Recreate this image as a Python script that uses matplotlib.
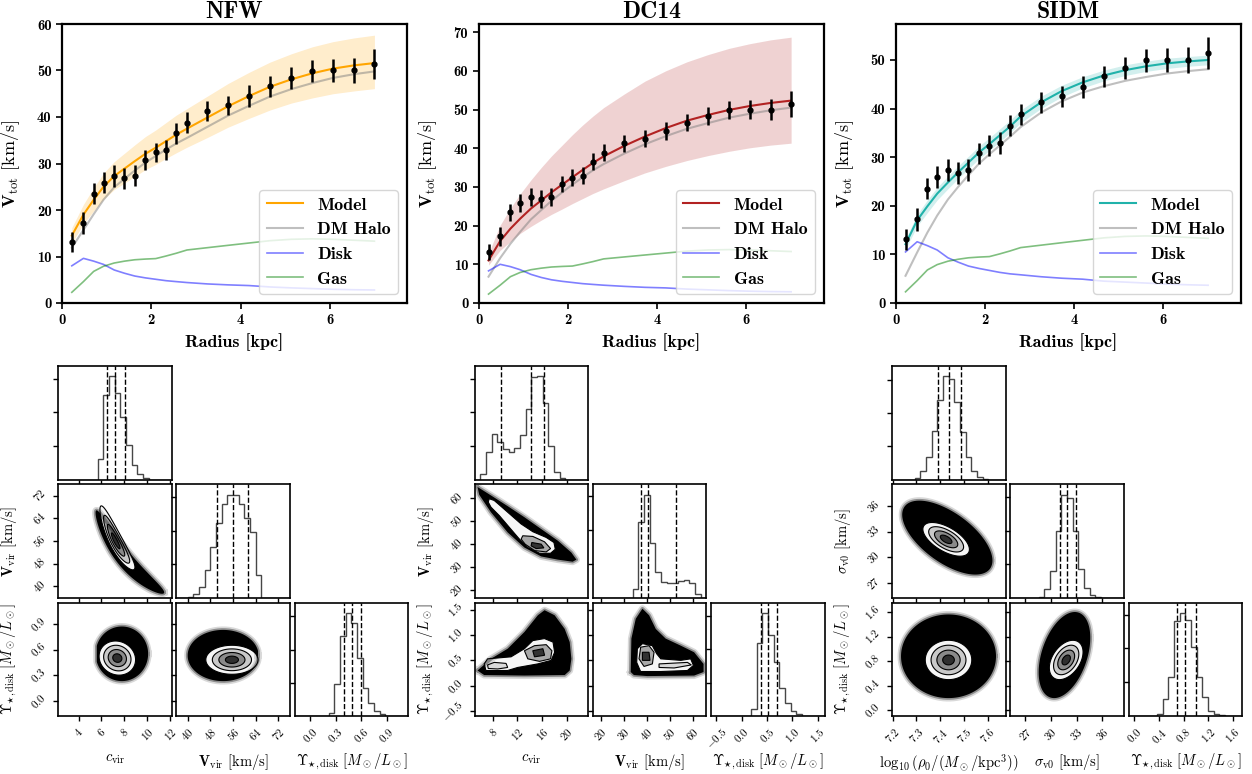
import numpy as np
import matplotlib
matplotlib.use('Agg')
import matplotlib.pyplot as plt
from matplotlib.ticker import MaxNLocator

plt.rcParams['font.family'] = ['cmr10', 'DejaVu Serif']
plt.rcParams['mathtext.fontset'] = 'cm'
plt.rcParams['axes.formatter.use_mathtext'] = False
plt.rcParams['axes.unicode_minus'] = False

# ---------------- rotation curve data ----------------
radius = [0.22, 0.48, 0.71, 0.93, 1.17, 1.40, 1.63, 1.87, 2.10, 2.33, 2.56,
          2.80, 3.26, 3.72, 4.19, 4.66, 5.14, 5.61, 6.07, 6.54, 7.00]
v_obs = [13.1, 17.2, 23.5, 25.9, 27.3, 26.8, 27.4, 30.8, 32.4, 32.9, 36.5,
         38.8, 41.3, 42.5, 44.5, 46.6, 48.4, 49.9, 50.0, 50.0, 51.4]
v_err = [2.1, 2.4, 2.2, 2.3, 2.3, 2.3, 2.3, 2.1, 2.1, 2.2, 2.2,
         2.2, 2.2, 2.1, 2.3, 2.2, 2.3, 2.3, 2.5, 2.6, 3.3]
v_gas = [2.3, 4.6, 6.8, 7.9, 8.6, 9.0, 9.3, 9.45, 9.55, 10.1, 10.7,
         11.4, 11.9, 12.4, 12.9, 13.4, 13.7, 13.8, 13.7, 13.5, 13.3]

nfw_model = [14.5, 19.0, 22.2, 25.0, 27.3, 28.9, 30.5, 32.1, 33.4, 34.8, 36.2,
             37.5, 39.9, 42.3, 44.5, 46.5, 48.1, 49.4, 50.4, 51.1, 51.6]
nfw_upper = [16.2, 21.2, 24.8, 27.9, 30.4, 32.2, 34.0, 35.8, 37.2, 38.8, 40.4,
             41.8, 44.5, 47.2, 49.6, 51.8, 53.6, 55.1, 56.2, 57.0, 57.6]
nfw_lower = [12.9, 17.0, 19.8, 22.3, 24.4, 25.8, 27.2, 28.7, 29.8, 31.1, 32.3,
             33.5, 35.6, 37.8, 39.7, 41.5, 43.0, 44.1, 45.0, 45.6, 46.1]
nfw_halo = [11.9, 15.7, 19.1, 22.2, 24.9, 26.7, 28.5, 30.2, 31.6, 33.0, 34.3,
            35.5, 37.9, 40.3, 42.4, 44.4, 46.0, 47.3, 48.4, 49.2, 49.8]
nfw_disk = [8.0, 9.6, 9.0, 8.3, 7.1, 6.4, 5.8, 5.4, 5.1, 4.8, 4.6,
            4.4, 4.1, 3.9, 3.75, 3.45, 3.25, 3.1, 2.95, 2.85, 2.8]

dc14_model = [11.0, 16.0, 19.2, 21.8, 24.4, 26.5, 28.6, 30.6, 32.5, 34.4, 36.2,
              37.9, 40.6, 43.0, 45.2, 47.1, 48.6, 49.9, 50.9, 51.7, 52.3]
dc14_upper = [12.8, 20.1, 24.5, 28.2, 31.8, 35.0, 38.0, 40.8, 43.5, 46.0, 48.3,
              50.5, 54.0, 57.3, 60.0, 62.3, 64.2, 65.8, 67.0, 68.0, 68.7]
dc14_lower = [9.8, 13.6, 15.9, 18.0, 19.8, 21.4, 22.9, 24.3, 25.7, 27.0, 28.3,
              29.5, 31.6, 33.6, 35.3, 36.8, 38.1, 39.2, 40.1, 40.8, 41.3]
dc14_halo = [6.8, 11.6, 15.3, 18.4, 21.6, 24.0, 26.4, 28.6, 30.6, 32.5, 34.3,
             35.9, 38.6, 41.0, 43.1, 45.0, 46.5, 47.9, 48.9, 49.8, 50.5]
dc14_disk = [8.3, 10.0, 9.4, 8.6, 7.4, 6.6, 6.0, 5.6, 5.3, 5.0, 4.8,
             4.6, 4.3, 4.05, 3.9, 3.6, 3.4, 3.2, 3.05, 2.95, 2.9]

sidm_model = [12.1, 17.0, 19.9, 22.5, 24.8, 26.9, 28.9, 31.0, 32.7, 34.5, 36.3,
              38.4, 41.3, 43.6, 45.4, 46.8, 47.9, 48.7, 49.3, 49.7, 50.0]
sidm_upper = [13.1, 18.2, 21.2, 23.8, 26.1, 28.2, 30.2, 32.3, 34.0, 35.8, 37.6,
              39.7, 42.55, 44.8, 46.55, 47.9, 49.0, 49.75, 50.35, 50.7, 51.0]
sidm_lower = [11.1, 15.8, 18.6, 21.2, 23.5, 25.6, 27.6, 29.7, 31.4, 33.2, 35.0,
              37.1, 40.05, 42.4, 44.25, 45.7, 46.8, 47.65, 48.25, 48.7, 49.0]
sidm_halo = [5.6, 10.4, 14.5, 18.0, 21.3, 23.9, 26.3, 28.7, 30.6, 32.4, 34.2,
             36.2, 39.2, 41.5, 43.3, 44.6, 45.7, 46.5, 47.2, 47.7, 48.1]
sidm_disk = [10.5, 12.6, 11.8, 10.9, 9.3, 8.4, 7.6, 7.1, 6.7, 6.3, 6.0,
             5.8, 5.4, 5.1, 4.9, 4.5, 4.3, 4.1, 3.9, 3.75, 3.65]

model_names = ['NFW', 'DC14', 'SIDM']
model_colors = ['orange', '#b22222', '#20b2aa']
y_tops = [60, 72.1, 57.4]
y_ticks = [[0, 10, 20, 30, 40, 50, 60], [0, 10, 20, 30, 40, 50, 60, 70],
           [0, 10, 20, 30, 40, 50]]
x_ticks = [0, 2, 4, 6]

# ---------------- posterior data ----------------
# 1D histograms (20 bins over the panel range), quantile lines
nfw_range_c, nfw_range_v, nfw_range_u = (2.2, 12.15), (36.0, 76.0), (-0.18, 1.15)
nfw_hist_c = [0, 0, 0, 0, 0, 0, 0, 60, 253, 308, 258, 186, 103, 44, 16, 5, 0, 0, 0, 0]
nfw_hist_v = [0, 0, 3, 10, 33, 83, 153, 223, 280, 308, 306, 281, 238, 195, 68, 0, 0, 0, 0, 0]
nfw_hist_u = [0, 0, 0, 0, 0, 0, 10, 97, 240, 310, 280, 175, 85, 40, 15, 5, 0, 0, 0, 0]
nfw_q_c, nfw_q_v, nfw_q_u = [6.5, 7.22, 8.06], [50.5, 56.0, 61.3], [0.40, 0.49, 0.60]
nfw_ticks = [[4, 6, 8, 10, 12], [40, 48, 56, 64, 72], [0.0, 0.3, 0.6, 0.9]]

dc14_range_c, dc14_range_v, dc14_range_u = (5.0, 23.5), (16.6, 66.0), (-0.6, 1.64)
dc14_hist_c = [0, 15, 81, 135, 113, 90, 83, 95, 133, 211, 305, 308, 228, 101, 23, 5, 0, 0, 0, 0]
dc14_hist_v = [0, 0, 0, 0, 0, 0, 0, 25, 222, 303, 162, 75, 45, 42, 43, 50, 53, 43, 10, 0]
dc14_hist_u = [0, 0, 0, 0, 0, 0, 0, 20, 217, 308, 243, 160, 85, 40, 15, 5, 0, 0, 0, 0]
dc14_q_c, dc14_q_v, dc14_q_u = [9.37, 14.28, 16.3], [37.7, 40.8, 52.9], [0.38, 0.52, 0.71]
dc14_ticks = [[8, 12, 16, 20], [20, 30, 40, 50, 60], [-0.5, 0.0, 0.5, 1.0, 1.5]]

sidm_range_r, sidm_range_s, sidm_range_u = (7.197, 7.675), (25.3, 38.5), (-0.093, 1.753)
sidm_hist_r = [0, 0, 0, 0, 5, 25, 67, 145, 240, 310, 302, 233, 143, 67, 27, 8, 2, 0, 0, 0]
sidm_hist_s = [0, 0, 0, 0, 0, 3, 25, 80, 200, 307, 297, 200, 85, 30, 7, 2, 0, 0, 0, 0]
sidm_hist_u = [0, 0, 0, 0, 0, 5, 50, 115, 280, 305, 285, 205, 115, 55, 15, 5, 2, 0, 0, 0]
sidm_q_r, sidm_q_s, sidm_q_u = [7.39, 7.437, 7.487], [31.04, 31.94, 32.99], [0.688, 0.83, 1.005]
sidm_ticks = [[7.2, 7.3, 7.4, 7.5, 7.6], [27, 30, 33, 36], [0.0, 0.4, 0.8, 1.2, 1.6]]

# 2D blobs: (x centre, y centre, x width, y width, correlation)
nfw_cv_inner, nfw_cv_outer = (7.25, 56.0, 0.105, 0.10, -0.90), (7.95, 50.0, 0.37, 0.29, -0.955)
nfw_cu_inner, nfw_cu_outer = (7.4, 0.50, 0.80, 0.10, -0.1), (7.8, 0.55, 2.3, 0.32, 0.0)
nfw_vu_inner, nfw_vu_outer = (55.6, 0.48, 4.6, 0.085, 0.0), (52.5, 0.53, 12.5, 0.30, 0.0)
nfw_cu_clip, nfw_vu_clip = (5.6, None), (None, 64.8)

sidm_rs_inner, sidm_rs_outer = (7.425, 32.1, 0.049, 0.98, -0.6), (7.43, 32.3, 0.19, 4.3, -0.62)
sidm_ru_inner, sidm_ru_outer = (7.435, 0.82, 0.049, 0.16, 0.0), (7.435, 0.88, 0.20, 0.68, 0.0)
sidm_su_inner, sidm_su_outer = (31.8, 0.82, 0.98, 0.16, 0.4), (31.6, 0.90, 3.0, 0.70, 0.4)

# DC14 outlines (data units)
dc14_cv_outer_x = [5.49, 7.68, 10.41, 13.14, 15.87, 18.61, 20.79, 21.61, 21.0, 18.61, 15.87, 13.14, 10.41, 7.68, 5.77]
dc14_cv_outer_y = [64.84, 61.17, 56.49, 51.66, 46.53, 41.40, 36.28, 33.2, 32.3, 33.2, 34.6, 38.47, 45.06, 53.85, 61.47]
dc14_cv_white_x = [7.40, 8.22, 10.41, 12.60, 14.51, 16.69, 17.95, 18.17, 17.40, 15.60, 13.69, 12.32, 10.68, 9.04, 7.68, 7.24]
dc14_cv_white_y = [59.71, 58.98, 53.85, 48.73, 45.36, 42.87, 40.67, 37.74, 35.99, 35.99, 38.47, 42.14, 47.26, 52.39, 56.05, 58.25]
dc14_cv_gray_x = [12.87, 14.51, 16.42, 17.40, 16.69, 14.78, 13.25, 12.60]
dc14_cv_gray_y = [43.60, 43.31, 40.96, 38.03, 36.57, 37.16, 39.94, 42.14]
dc14_cv_dark_x = [14.34, 15.87, 16.31, 15.05, 14.23]
dc14_cv_dark_y = [40.67, 39.94, 38.33, 38.03, 39.21]

dc14_cu_outer_x = [5.49, 7.68, 10.41, 13.14, 15.33, 16.42, 18.06, 19.70, 20.52, 20.79, 20.52, 19.70, 13.14, 6.58]
dc14_cu_outer_y = [0.30, 0.53, 0.73, 1.06, 1.39, 1.49, 1.39, 1.12, 0.86, 0.53, 0.30, 0.21, 0.20, 0.21]
dc14_cu_white_x = [6.58, 7.13, 10.96, 13.14, 14.5, 16.4, 17.8, 18.06, 17.5, 15.3, 12.05, 10.4, 6.86]
dc14_cu_white_y = [0.43, 0.53, 0.57, 0.73, 0.89, 0.93, 0.86, 0.66, 0.50, 0.43, 0.36, 0.30, 0.30]
dc14_cu_gray_x = [13.14, 14.78, 16.69, 17.62, 17.40, 15.60, 13.69]
dc14_cu_gray_y = [0.69, 0.79, 0.81, 0.69, 0.53, 0.48, 0.53]
dc14_cu_dark_x = [14.5, 16.15, 16.42, 14.78]
dc14_cu_dark_y = [0.69, 0.73, 0.60, 0.57]
dc14_cu_lobe_x = [7.13, 8.22, 10.14, 10.41, 8.77, 7.24]
dc14_cu_lobe_y = [0.41, 0.46, 0.44, 0.36, 0.33, 0.34]

dc14_vu_outer_x = [33.1, 33.4, 35.3, 38.2, 41.1, 44.0, 48.3, 54.9, 60.7, 64.8, 64.8, 60.7, 40.3, 34.5]
dc14_vu_outer_y = [0.27, 0.93, 1.32, 1.52, 1.39, 1.12, 0.93, 0.79, 0.66, 0.43, 0.27, 0.20, 0.19, 0.21]
dc14_vu_white_x = [36.0, 38.2, 42.5, 44.4, 46.2, 54.9, 59.2, 60.4, 57.8, 46.2, 37.4, 35.7]
dc14_vu_white_y = [0.73, 0.83, 0.79, 0.63, 0.53, 0.50, 0.53, 0.40, 0.30, 0.28, 0.28, 0.46]
dc14_vu_gray_x = [37.44, 41.07, 43.25, 42.53, 38.89, 36.71]
dc14_vu_gray_y = [0.76, 0.79, 0.66, 0.43, 0.38, 0.53]
dc14_vu_dark_x = [38.2, 41.07, 41.5, 38.2]
dc14_vu_dark_y = [0.66, 0.66, 0.50, 0.50]
dc14_vu_lobe_x = [45.43, 57.8, 59.5, 52.0, 45.43]
dc14_vu_lobe_y = [0.43, 0.46, 0.41, 0.35, 0.36]

lab_c = r'$c_{\rm vir}$'
lab_v = r'$\mathbf{V}_{\rm vir}$ [km/s]'
lab_u = r'$\Upsilon_{\star,{\rm disk}}\ [M_\odot/L_\odot]$'
lab_r = r'$\log_{10}(\rho_0/(M_\odot/{\rm kpc}^3))$'
lab_s = r'$\sigma_{\rm v0}$ [km/s]'

W, H = 1252, 774
fig = plt.figure(figsize=(W / 100, H / 100), dpi=100)


def px_axes(left, top, w, h):
    return fig.add_axes([left / W, 1 - (top + h) / H, w / W, h / H])


def ellipse(par, r, log=False):
    cx, cy, sx, sy, rho = par
    t = np.linspace(0, 2 * np.pi, 181)
    u, w = r * np.cos(t), r * np.sin(t)
    dx = sx * u
    dy = sy * (rho * u + np.sqrt(1 - rho ** 2) * w)
    if log:
        return cx * np.exp(dx), cy * np.exp(dy)
    return cx + dx, cy + dy


def fuzzy_black(ax, xs, ys):
    xs = np.append(xs, xs[0])
    ys = np.append(ys, ys[0])
    ax.plot(xs, ys, color='k', lw=5, alpha=0.15, solid_joinstyle='round')
    ax.plot(xs, ys, color='k', lw=2.5, alpha=0.35, solid_joinstyle='round')
    ax.fill(xs, ys, color='k', lw=0)


def draw_ellipse_blob(ax, inner, outer, log=False, clip=(None, None)):
    xo, yo = ellipse(outer, 1.0, log)
    if clip[0] is not None:
        xo = np.maximum(xo, clip[0])
    if clip[1] is not None:
        xo = np.minimum(xo, clip[1])
    fuzzy_black(ax, xo, yo)
    for r, col in [(2.0, '#f6f6f6'), (1.5, '#c9c9c9'), (1.0, '#8a8a8a'), (0.5, '#2f2f2f')]:
        xs, ys = ellipse(inner, r, log)
        ax.fill(xs, ys, facecolor=col, edgecolor='k', lw=0.8)


def draw_poly_blob(ax, outer, white, gray, dark, lobe):
    fuzzy_black(ax, np.array(outer[0]), np.array(outer[1]))
    ax.fill(white[0], white[1], facecolor='#f6f6f6', edgecolor='k', lw=0.8)
    if lobe is not None:
        ax.fill(lobe[0], lobe[1], facecolor='#d9d9d9', edgecolor='k', lw=0.8)
    ax.fill(gray[0], gray[1], facecolor='#a8a8a8', edgecolor='k', lw=0.8)
    ax.fill(dark[0], dark[1], facecolor='#333333', edgecolor='k', lw=0.8)


# ---------------- top row ----------------
top_lefts = [62, 478.7, 895.7]
models = [(nfw_model, nfw_upper, nfw_lower, nfw_halo, nfw_disk),
          (dc14_model, dc14_upper, dc14_lower, dc14_halo, dc14_disk),
          (sidm_model, sidm_upper, sidm_lower, sidm_halo, sidm_disk)]

for k, (mod, up, lo, halo, disk) in enumerate(models):
    ax = px_axes(top_lefts[k], 24, 345, 279)
    col = model_colors[k]
    ax.fill_between(radius, lo, up, color=col, alpha=0.2, lw=0)
    ax.plot(radius, mod, color=col, lw=1.5, label='Model')
    ax.plot(radius, halo, color='gray', alpha=0.5, lw=1.5, label='DM Halo')
    ax.plot(radius, disk, color='blue', alpha=0.5, lw=1.2, label='Disk')
    ax.plot(radius, v_gas, color='green', alpha=0.5, lw=1.2, label='Gas')
    ax.errorbar(radius, v_obs, yerr=v_err, fmt='o', color='k', ms=3.5,
                elinewidth=1.8, capsize=0, zorder=5)
    ax.set_xlim(0, 7.73)
    ax.set_ylim(0, y_tops[k])
    ax.set_xticks(x_ticks, labels=[str(t) for t in x_ticks], fontfamily='cmb10', fontsize=10.5)
    ax.set_yticks(y_ticks[k], labels=[str(t) for t in y_ticks[k]], fontfamily='cmb10', fontsize=10.5)
    ax.tick_params(direction='out', length=4, width=1.2)
    for s in ax.spines.values():
        s.set_linewidth(1.6)
    ax.set_title(model_names[k], fontfamily='cmb10', fontsize=17, pad=4)
    ax.set_xlabel('Radius [kpc]', fontfamily='cmb10', fontsize=13)
    ax.xaxis.set_label_coords(0.5, -0.11)
    ax.set_ylabel(r'$\mathbf{V}_{\rm tot}$ [km/s]', fontsize=13)
    ax.yaxis.set_label_coords(-0.115, 0.5)
    ax.legend(loc='lower right', prop={'family': 'cmb10', 'size': 13}, handlelength=2.0)

# ---------------- corner plots ----------------
cell, pitch = 113.5, 118.3
row_top = 366

corners = [
    dict(left=58, ranges=[nfw_range_c, nfw_range_v, nfw_range_u],
         hists=[nfw_hist_c, nfw_hist_v, nfw_hist_u], quants=[nfw_q_c, nfw_q_v, nfw_q_u],
         ticks=nfw_ticks, fmts=['{:.0f}', '{:.0f}', '{:.1f}'], labels=[lab_c, lab_v, lab_u],
         blobs={(1, 0): lambda ax: draw_ellipse_blob(ax, nfw_cv_inner, nfw_cv_outer, log=True),
                (2, 0): lambda ax: draw_ellipse_blob(ax, nfw_cu_inner, nfw_cu_outer, clip=nfw_cu_clip),
                (2, 1): lambda ax: draw_ellipse_blob(ax, nfw_vu_inner, nfw_vu_outer, clip=nfw_vu_clip)}),
    dict(left=474.5, ranges=[dc14_range_c, dc14_range_v, dc14_range_u],
         hists=[dc14_hist_c, dc14_hist_v, dc14_hist_u], quants=[dc14_q_c, dc14_q_v, dc14_q_u],
         ticks=dc14_ticks, fmts=['{:.0f}', '{:.0f}', '{:.1f}'], labels=[lab_c, lab_v, lab_u],
         blobs={(1, 0): lambda ax: draw_poly_blob(ax, (dc14_cv_outer_x, dc14_cv_outer_y),
                                                  (dc14_cv_white_x, dc14_cv_white_y),
                                                  (dc14_cv_gray_x, dc14_cv_gray_y),
                                                  (dc14_cv_dark_x, dc14_cv_dark_y), None),
                (2, 0): lambda ax: draw_poly_blob(ax, (dc14_cu_outer_x, dc14_cu_outer_y),
                                                  (dc14_cu_white_x, dc14_cu_white_y),
                                                  (dc14_cu_gray_x, dc14_cu_gray_y),
                                                  (dc14_cu_dark_x, dc14_cu_dark_y),
                                                  (dc14_cu_lobe_x, dc14_cu_lobe_y)),
                (2, 1): lambda ax: draw_poly_blob(ax, (dc14_vu_outer_x, dc14_vu_outer_y),
                                                  (dc14_vu_white_x, dc14_vu_white_y),
                                                  (dc14_vu_gray_x, dc14_vu_gray_y),
                                                  (dc14_vu_dark_x, dc14_vu_dark_y),
                                                  (dc14_vu_lobe_x, dc14_vu_lobe_y))}),
    dict(left=892, ranges=[sidm_range_r, sidm_range_s, sidm_range_u],
         hists=[sidm_hist_r, sidm_hist_s, sidm_hist_u], quants=[sidm_q_r, sidm_q_s, sidm_q_u],
         ticks=sidm_ticks, fmts=['{:.1f}', '{:.0f}', '{:.1f}'], labels=[lab_r, lab_s, lab_u],
         blobs={(1, 0): lambda ax: draw_ellipse_blob(ax, sidm_rs_inner, sidm_rs_outer),
                (2, 0): lambda ax: draw_ellipse_blob(ax, sidm_ru_inner, sidm_ru_outer),
                (2, 1): lambda ax: draw_ellipse_blob(ax, sidm_su_inner, sidm_su_outer)}),
]

for spec in corners:
    for i in range(3):
        for j in range(i + 1):
            ax = px_axes(spec['left'] + j * pitch, row_top + i * pitch, cell, cell)
            xr = spec['ranges'][j]
            if i == j:
                counts = np.array(spec['hists'][i], dtype=float)
                edges = np.linspace(xr[0], xr[1], len(counts) + 1)
                ax.stairs(counts, edges, color='#474747', lw=1.0)
                for q in spec['quants'][i]:
                    ax.axvline(q, color='k', ls='--', lw=1.0)
                ax.set_ylim(0, 1.1 * counts.max())
                ax.yaxis.set_major_locator(MaxNLocator(4, prune='lower'))
                ax.tick_params(labelleft=False)
            else:
                spec['blobs'][(i, j)](ax)
                yt = spec['ticks'][i]
                ax.set_ylim(*spec['ranges'][i])
                if j == 0:
                    ax.set_yticks(yt, labels=['$' + spec['fmts'][i].format(t) + '$' for t in yt],
                                  rotation=45, fontsize=8, va='center')
                    ax.set_ylabel(spec['labels'][i], fontsize=10.5)
                    ax.yaxis.set_label_coords(-0.34, 0.5)
                else:
                    ax.set_yticks(yt)
                    ax.tick_params(labelleft=False)
            xt = spec['ticks'][j]
            ax.set_xlim(*xr)
            if i == 2:
                ax.set_xticks(xt, labels=['$' + spec['fmts'][j].format(t) + '$' for t in xt],
                              rotation=45, fontsize=8)
                ax.set_xlabel(spec['labels'][j], fontsize=10.5)
                ax.xaxis.set_label_coords(0.5, -0.32)
            else:
                ax.set_xticks(xt)
                ax.tick_params(labelbottom=False)
            ax.tick_params(direction='out', length=3.5, width=1.0)
            for s in ax.spines.values():
                s.set_linewidth(1.2)

fig.savefig('out.png', dpi=100)
